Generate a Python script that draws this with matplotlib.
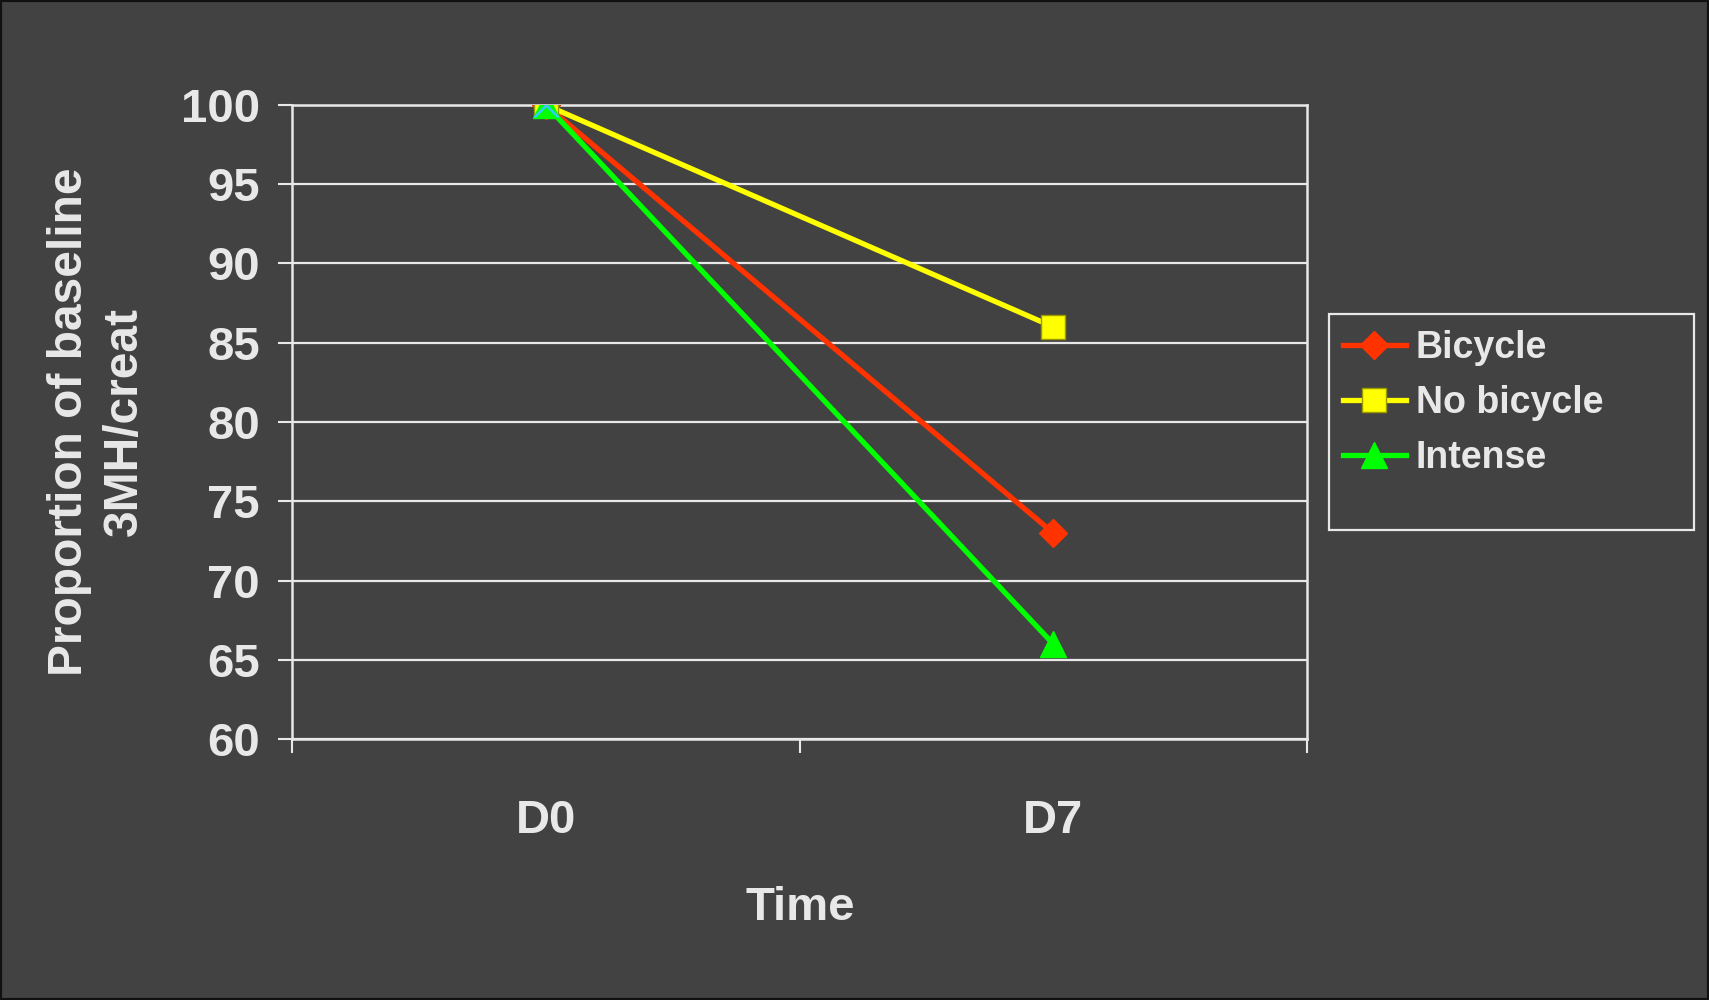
import matplotlib
matplotlib.use("Agg")
import matplotlib.pyplot as plt
from matplotlib.patches import Rectangle

# data
time_labels = ["D0", "D7"]
bicycle     = [100, 73]
no_bicycle  = [100, 86]
intense     = [100, 66]
marker_pt   = [100]          # cyan cross sitting on D0

BG   = "#424242"
FG   = "#e8e8e8"
plt.rcParams["font.family"] = ["Liberation Sans", "DejaVu Sans"]
plt.rcParams["font.weight"] = "bold"

fig = plt.figure(figsize=(17.09, 10), dpi=100, facecolor=BG)
ax = fig.add_axes([292 / 1709, 0.261, (1307 - 292) / 1709, 0.895 - 0.261])
ax.set_facecolor(BG)

x = list(range(len(time_labels)))
ax.plot(x, bicycle, color="#ff3300", lw=3.8, marker="D", ms=14,
        mec="#ff3300", label="Bicycle", zorder=3)
ax.plot(x, no_bicycle, color="#ffff00", lw=3.8, marker="s", ms=17,
        mec="#9a9a00", mew=1, label="No bicycle", zorder=4)
ax.plot(x, intense, color="#00ff00", lw=3.8, marker="^", ms=19,
        mec="#00ff00", label="Intense", zorder=5)
ax.plot([0], marker_pt, ls="none", marker="x", ms=17, mew=1.8,
        color="#33ccff", zorder=6)

ax.set_xlim(-0.5, 1.5)
ax.set_ylim(60, 100)
ax.set_yticks(range(60, 101, 5))
ax.set_xticks(x)
ax.set_xticklabels(time_labels)
ax.set_xticks([-0.5, 0.5, 1.5], minor=True)

ax.grid(axis="y", color=FG, lw=1.6, zorder=1)
ax.set_axisbelow(True)
for side in ["left", "right", "bottom", "top"]:
    ax.spines[side].set_color(FG)
    ax.spines[side].set_linewidth(1.8)

ax.tick_params(axis="y", colors=FG, labelsize=34, length=10, width=1.5,
               direction="out", pad=13)
ax.tick_params(axis="x", which="major", colors=FG, labelsize=34, length=0, pad=43)
ax.tick_params(axis="x", which="minor", colors=FG, length=10, width=1.5,
               direction="out")
for lbl in ax.get_xticklabels() + ax.get_yticklabels():
    lbl.set_fontweight("bold")

fig.text(800 / 1709, 1 - 908 / 1000, "Time", color=FG, fontsize=34,
         fontweight="bold", ha="center", va="center")
fig.text(97 / 1709, 1 - 422 / 1000, "Proportion of baseline\n3MH/creat",
         color=FG, fontsize=34.5, fontweight="bold", rotation=90,
         ha="center", va="center", multialignment="center", linespacing=1.3)

# legend box
fig.patches.append(Rectangle((1329 / 1709, 0.470), (1694 - 1329) / 1709, 0.216,
                             transform=fig.transFigure, fill=False,
                             edgecolor=FG, lw=1.6))
handles, labels = ax.get_legend_handles_labels()
leg = fig.legend(handles, labels, loc="upper left",
                 bbox_to_anchor=(1335 / 1709, 1 - 323 / 1000),
                 frameon=False, fontsize=27, handlelength=1.68,
                 handletextpad=0.27, labelspacing=0.5, borderaxespad=0,
                 borderpad=0.2, markerscale=1.0)
for t in leg.get_texts():
    t.set_color(FG)
    t.set_fontweight("bold")

# dark frame around the whole picture
fig.patches.append(Rectangle((0, 0), 1, 1, transform=fig.transFigure,
                             fill=False, edgecolor="#111111", lw=3))

fig.savefig("out.png", dpi=100, facecolor=BG)
